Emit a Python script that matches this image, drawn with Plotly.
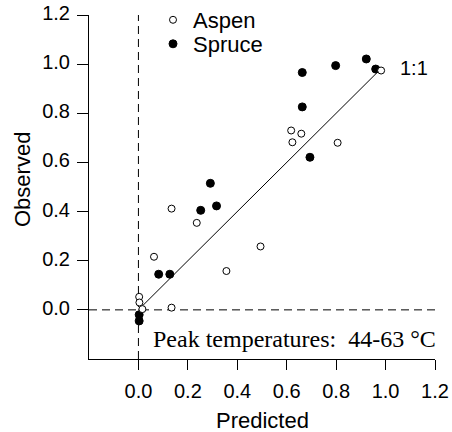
import plotly.graph_objects as go

# Data
aspen_pred = [0.982, 0.618, 0.659, 0.623, 0.806, 0.134, 0.236, 0.494, 0.063, 0.356, 0.003, 0.004, 0.016, 0.134]
aspen_obs = [0.974, 0.730, 0.717, 0.682, 0.680, 0.412, 0.354, 0.258, 0.216, 0.158, 0.053, 0.030, 0.003, 0.009]

spruce_pred = [0.663, 0.798, 0.922, 0.960, 0.663, 0.694, 0.291, 0.252, 0.316, 0.082, 0.127, 0.003, 0.003]
spruce_obs = [0.966, 0.994, 1.021, 0.980, 0.826, 0.621, 0.515, 0.405, 0.423, 0.145, 0.145, -0.020, -0.045]

one_to_one = [0.0, 0.97]
tick_vals = [0.0, 0.2, 0.4, 0.6, 0.8, 1.0, 1.2]
tick_text = ["0.0", "0.2", "0.4", "0.6", "0.8", "1.0", "1.2"]
axis_range = [-0.2, 1.2]

fig = go.Figure()

# reference lines
fig.add_trace(go.Scatter(x=[0, 0], y=axis_range, mode="lines",
                         line=dict(color="black", width=1, dash="8px,5px"),
                         showlegend=False, hoverinfo="skip"))
fig.add_trace(go.Scatter(x=axis_range, y=[0, 0], mode="lines",
                         line=dict(color="black", width=1, dash="8px,5px"),
                         showlegend=False, hoverinfo="skip"))
fig.add_trace(go.Scatter(x=one_to_one, y=one_to_one, mode="lines",
                         line=dict(color="black", width=1),
                         showlegend=False, hoverinfo="skip"))

fig.add_trace(go.Scatter(x=spruce_pred, y=spruce_obs, mode="markers", name="Spruce",
                         legend="legend2",
                         marker=dict(symbol="circle", size=8, color="black",
                                     line=dict(color="black", width=1))))
fig.add_trace(go.Scatter(x=aspen_pred, y=aspen_obs, mode="markers", name="Aspen",
                         legend="legend",
                         marker=dict(symbol="circle", size=7, color="white",
                                     line=dict(color="black", width=1))))

axis_common = dict(range=axis_range, showgrid=False, zeroline=False,
                   showline=True, linecolor="black", linewidth=1, mirror=False,
                   ticks="outside", tickwidth=1, tickcolor="black",
                   tickvals=tick_vals, ticktext=tick_text, tickangle=0,
                   tickfont=dict(family="Liberation Sans, Arial", size=20, color="black"))

fig.update_xaxes(**axis_common, ticklen=10, ticklabelstandoff=4, automargin=False)
fig.update_yaxes(**axis_common, ticklen=11, ticklabelstandoff=3, ticklabelshift=-2,
                 automargin=False)

fig.add_annotation(x=0.5, y=-(420-359)/344, xref="paper", yref="paper", text="Predicted",
                   showarrow=False, xanchor="center", yanchor="middle",
                   font=dict(family="Liberation Sans, Arial", size=22, color="black"))
fig.add_annotation(x=-(89-22)/346, y=0.5 + 7/344, xref="paper", yref="paper", text="Observed",
                   showarrow=False, xanchor="center", yanchor="middle", textangle=-90,
                   font=dict(family="Liberation Sans, Arial", size=22, color="black"))
fig.add_annotation(x=1.2, y=-0.12, xref="x", yref="y", text="Peak temperatures:&nbsp; 44-63 °C",
                   showarrow=False, xanchor="right", yanchor="middle", xshift=3,
                   font=dict(family="Liberation Serif, Times New Roman", size=24, color="black"))
fig.add_annotation(x=1.113, y=0.985, xref="x", yref="y", text="1:1",
                   showarrow=False, xanchor="center", yanchor="middle",
                   font=dict(family="Liberation Sans, Arial", size=20, color="black"))

legend_common = dict(xanchor="left", yanchor="middle",
                     bgcolor="rgba(0,0,0,0)",
                     font=dict(family="Liberation Sans, Arial", size=22, color="black"))

fig.update_layout(
    width=452, height=432,
    margin=dict(l=89, r=17, t=15, b=73, autoexpand=False),
    paper_bgcolor="white", plot_bgcolor="white",
    legend=dict(x=(153-89)/346, y=1-(20-15)/344, **legend_common),
    legend2=dict(x=(153-89)/346, y=1-(44-15)/344, **legend_common),
)

fig.write_html("out.html", config={"displayModeBar": False},
               post_script="document.body.style.margin='0px';")
